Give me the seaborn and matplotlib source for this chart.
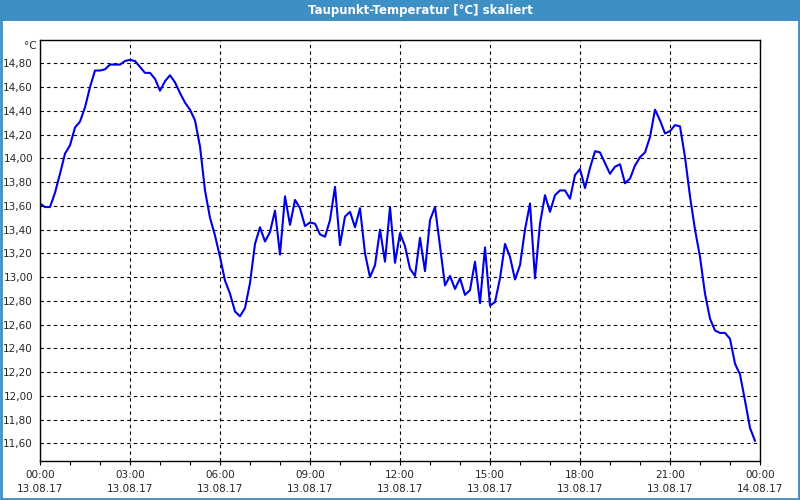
import matplotlib
matplotlib.use("Agg")
import matplotlib.pyplot as plt
import matplotlib.dates as mdates
from matplotlib.patches import Rectangle
import seaborn as sns
import pandas as pd
import numpy as np

# ---- data (10-minute samples, 13.08.17 00:00 .. 23:50) ----
start_time = "2017-08-13 00:00"
sample_step = "10min"
dewpoint = [
    13.62, 13.59, 13.59, 13.71, 13.87, 14.04, 14.11, 14.26, 14.31, 14.43,
    14.60, 14.74, 14.74, 14.75, 14.79, 14.79, 14.79, 14.82, 14.83, 14.82,
    14.77, 14.72, 14.72, 14.67, 14.57, 14.65, 14.70, 14.64, 14.55, 14.47,
    14.41, 14.32, 14.10, 13.73, 13.50, 13.35, 13.17, 12.97, 12.86, 12.71,
    12.67, 12.74, 12.95, 13.28, 13.42, 13.30, 13.38, 13.56, 13.19, 13.68,
    13.44, 13.65, 13.58, 13.43, 13.46, 13.45, 13.36, 13.34, 13.48, 13.76,
    13.27, 13.51, 13.55, 13.42, 13.58, 13.20, 13.00, 13.10, 13.40, 13.13,
    13.59, 13.12, 13.37, 13.26, 13.07, 13.01, 13.33, 13.05, 13.48, 13.59,
    13.26, 12.93, 13.01, 12.90, 12.99, 12.85, 12.89, 13.13, 12.78, 13.25,
    12.76, 12.79, 12.99, 13.28, 13.17, 12.98, 13.10, 13.40, 13.62, 12.99,
    13.45, 13.69, 13.55, 13.69, 13.73, 13.73, 13.66, 13.86, 13.91, 13.75,
    13.92, 14.06, 14.05, 13.96, 13.87, 13.93, 13.95, 13.79, 13.83, 13.94,
    14.01, 14.05, 14.18, 14.41, 14.32, 14.21, 14.23, 14.28, 14.27, 14.01,
    13.68, 13.40, 13.17, 12.86, 12.65, 12.55, 12.53, 12.53, 12.48, 12.27,
    12.18, 11.96, 11.73, 11.62,
]
y_ticks = [11.6, 11.8, 12.0, 12.2, 12.4, 12.6, 12.8, 13.0, 13.2, 13.4,
           13.6, 13.8, 14.0, 14.2, 14.4, 14.6, 14.8]
title_text = "Taupunkt-Temperatur [°C] skaliert"
unit_text = "°C"

times = pd.date_range(start_time, periods=len(dewpoint), freq=sample_step)
df = pd.DataFrame({"time": times, "value": dewpoint})

sns.set_style("white")
plt.rcParams["font.family"] = ["DejaVu Sans"]

BLUE = "#3d8fc4"
fig = plt.figure(figsize=(8, 5), dpi=100, facecolor="white")
ax = fig.add_axes([40 / 800, 1 - 461 / 500, 720 / 800, 421 / 500])

sns.lineplot(data=df, x="time", y="value", ax=ax, color="#0000e6",
             linewidth=1.5, legend=False)

x0 = pd.Timestamp(start_time)
x1 = x0 + pd.Timedelta(hours=24)
ax.set_xlim(x0, x1)
ax.set_ylim(11.451, 14.997)

major = pd.date_range(x0, x1, freq="3h")
ax.set_xticks(major, [t.strftime("%H:%M\n%d.%m.%y") for t in major])
ax.xaxis.set_minor_locator(mdates.HourLocator())
ax.set_yticks(y_ticks, [f"{v:.2f}".replace(".", ",") for v in y_ticks])

ax.tick_params(axis="x", which="major", length=2.8, width=0.8, pad=4,
               labelsize=7.5, direction="out", color="black", bottom=True)
ax.tick_params(axis="x", which="minor", length=2.8, width=0.8,
               direction="out", color="black", bottom=True)
ax.tick_params(axis="y", length=0, pad=5, labelsize=7.5)
for lbl in ax.get_xticklabels():
    lbl.set_linespacing(1.5)

ax.grid(True, which="major", axis="both", color="black", linestyle=(0, (3, 3)),
        linewidth=0.8)
for s in ax.spines.values():
    s.set_visible(True)
    s.set_color("black")
    s.set_linewidth(1.0)
ax.set_xlabel("")
ax.set_ylabel("")

ax.text(-0.005, 0.986, unit_text, transform=ax.transAxes, ha="right", va="center",
        fontsize=7.5)

# title bar and window frame
fig.patches.append(Rectangle((0, 1 - 21 / 500), 1, 21 / 500,
                             transform=fig.transFigure, facecolor=BLUE,
                             edgecolor="none", zorder=0))
fig.patches.append(Rectangle((0.001, 0.002), 0.998, 0.996,
                             transform=fig.transFigure, facecolor="none",
                             edgecolor=BLUE, linewidth=2, zorder=5))
fig.text(420 / 800, 1 - 10.5 / 500, title_text, ha="center", va="center",
         color="white", fontsize=8.5, fontweight="bold")

fig.savefig("out.png", dpi=100, facecolor="white")
